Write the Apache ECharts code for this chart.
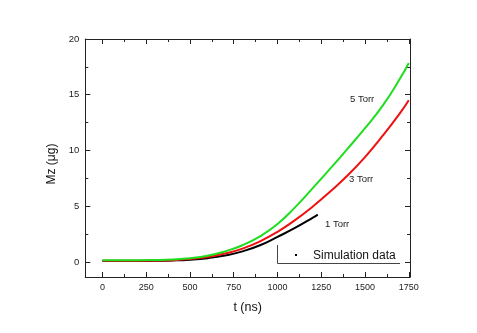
<!DOCTYPE html>
<html>
<head>
<meta charset="utf-8">
<script src="https://cdn.jsdelivr.net/npm/echarts@6/dist/echarts.min.js"></script>
<style>html,body{margin:0;padding:0;background:#fff;}#c{width:477px;height:333px;}</style>
</head>
<body>
<div id="c"></div>
<script>
var timeNs = [0,100,200,300,400,500,600,700,800,900,1000,1100,1200,1300,1400,1500,1600,1700,1750];
var torr5 = [0.15,0.15,0.15,0.17,0.22,0.33,0.55,0.95,1.5,2.3,3.4,4.9,6.6,8.35,10.15,12.0,14.0,16.45,17.85];
var torr3 = [0.1,0.1,0.1,0.12,0.16,0.26,0.45,0.75,1.2,1.85,2.7,3.75,4.95,6.3,7.75,9.4,11.3,13.35,14.5];
var time1 = [0,100,200,300,400,500,600,700,800,900,1000,1100,1200,1230];
var torr1 = [0.08,0.08,0.08,0.1,0.13,0.2,0.34,0.58,0.95,1.5,2.25,3.05,3.95,4.25];
var xMajor = [0,250,500,750,1000,1250,1500,1750];
var xMinor = [125,375,625,875,1125,1375,1625];
var yMajor = [0,5,10,15,20];
var yMinor = [2.5,7.5,12.5,17.5];
var seriesNames = ['5 Torr','3 Torr','1 Torr'];
var legendText = 'Simulation data';

function pairs(xs, ys){ return xs.map(function(x,i){ return [x, ys[i]]; }); }

var font = 'Liberation Sans, Arial, sans-serif';
var X_MIN = -98, X_MAX = 1757, Y_MIN = -1.35, Y_MAX = 20;
function plain(v){ return String(v); }

function xAx(pos, vals, len, labels, line){
  return {
    type:'value', position:pos, min:X_MIN, max:X_MAX, offset:0,
    axisLine:{show:line, onZero:false, lineStyle:{color:'#222', width:1}},
    axisTick:{show:true, inside:true, length:len, customValues:vals, lineStyle:{color:'#222', width:1}},
    axisLabel:{show:labels, customValues:vals, formatter:plain, fontSize:9, color:'#222', fontFamily:font, margin:6},
    splitLine:{show:false}
  };
}
function yAx(pos, vals, len, labels, line){
  return {
    type:'value', position:pos, min:Y_MIN, max:Y_MAX, offset:0,
    axisLine:{show:line, onZero:false, lineStyle:{color:'#222', width:1}},
    axisTick:{show:true, inside:true, length:len, customValues:vals, lineStyle:{color:'#222', width:1}},
    axisLabel:{show:labels, customValues:vals, formatter:plain, fontSize:9.5, color:'#222', fontFamily:font, margin:6},
    splitLine:{show:false}
  };
}

var xAxes = [xAx('bottom', xMajor, 5, true, true), xAx('bottom', xMinor, 3, false, false),
             xAx('top', xMajor, 5, false, true), xAx('top', xMinor, 3, false, false)];
xAxes[0].name = 't (ns)';
xAxes[0].nameLocation = 'middle';
xAxes[0].nameGap = 24;
xAxes[0].nameTextStyle = {fontSize:12.5, color:'#111', fontFamily:font};
var yAxes = [yAx('left', yMajor, 5, true, true), yAx('left', yMinor, 3, false, false),
             yAx('right', yMajor, 5, false, true), yAx('right', yMinor, 3, false, false)];
yAxes[0].name = 'Mz (μg)';
yAxes[0].nameLocation = 'middle';
yAxes[0].nameGap = 23;
yAxes[0].nameTextStyle = {fontSize:12, color:'#111', fontFamily:font, padding:[0,12,0,0]};

var chart = echarts.init(document.getElementById('c'), null, {renderer:'canvas'});
chart.setOption({
  animation:false,
  backgroundColor:'#fff',
  grid:{left:85.3, right:67, top:39, bottom:56, containLabel:false},
  xAxis:xAxes,
  yAxis:yAxes,
  series:[
    {name:seriesNames[0], type:'line', smooth:true, showSymbol:false, data:pairs(timeNs, torr5), lineStyle:{color:'#1fdd1f', width:2}, itemStyle:{color:'#1fdd1f'}, z:3},
    {name:seriesNames[1], type:'line', smooth:true, showSymbol:false, data:pairs(timeNs, torr3), lineStyle:{color:'#ee1111', width:2}, itemStyle:{color:'#ee1111'}, z:2},
    {name:seriesNames[2], type:'line', smooth:true, showSymbol:false, data:pairs(time1, torr1), lineStyle:{color:'#000', width:2}, itemStyle:{color:'#000'}, z:1}
  ],
  graphic:[
    {type:'text', left:350, top:94, style:{text:seriesNames[0], fontSize:9.5, fill:'#222', fontFamily:font}},
    {type:'text', left:349, top:174, style:{text:seriesNames[1], fontSize:9.5, fill:'#222', fontFamily:font}},
    {type:'text', left:325, top:219, style:{text:seriesNames[2], fontSize:9.5, fill:'#222', fontFamily:font}},
    {type:'line', shape:{x1:277.5, y1:245, x2:277.5, y2:263.5}, style:{stroke:'#444', lineWidth:1}},
    {type:'line', shape:{x1:277.5, y1:263.5, x2:400, y2:263.5}, style:{stroke:'#444', lineWidth:1}},
    {type:'rect', shape:{x:295, y:254, width:2, height:2}, style:{fill:'#000'}},
    {type:'text', left:313, top:250, style:{text:legendText, fontSize:12, fill:'#111', fontFamily:font}}
  ]
});
</script>
</body>
</html>
